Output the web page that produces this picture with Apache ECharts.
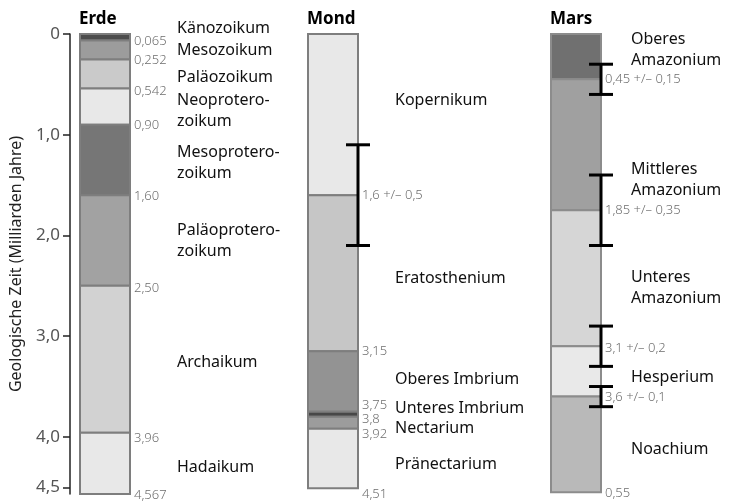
<!DOCTYPE html>
<html>
<head>
<meta charset="utf-8">
<script src="https://cdn.jsdelivr.net/npm/echarts@6/dist/echarts.min.js"></script>
<style>
html, body { margin: 0; padding: 0; background: #fff; }
#chart { width: 731px; height: 504px; }
</style>
</head>
<body>
<div id="chart"></div>
<script>
// --- data (Milliarden Jahre) ---
const planetTitles = ['Erde', 'Mond', 'Mars'];

const erdeNames = ['Känozoikum', 'Mesozoikum', 'Paläozoikum', 'Neoprotero-\nzoikum', 'Mesoprotero-\nzoikum',
  'Paläoprotero-\nzoikum', 'Archaikum', 'Hadaikum'];
const erdeEnds = [0.065, 0.252, 0.542, 0.90, 1.60, 2.50, 3.96, 4.567];
const erdeEndLabels = ['0,065', '0,252', '0,542', '0,90', '1,60', '2,50', '3,96', '4,567'];

const mondNames = ['Kopernikum', 'Eratosthenium', 'Oberes Imbrium', 'Unteres Imbrium', 'Nectarium', 'Pränectarium'];
const mondEnds = [1.6, 3.15, 3.75, 3.8, 3.92, 4.51];
const mondEndLabels = ['1,6 +/– 0,5', '3,15', '3,75', '3,8', '3,92', '4,51'];
const mondErrors = [[1.6, 0.5]];

const marsNames = ['Oberes\nAmazonium', 'Mittleres\nAmazonium', 'Unteres\nAmazonium', 'Hesperium', 'Noachium'];
const marsEnds = [0.45, 1.75, 3.1, 3.6, 4.55];
const marsEndLabels = ['0,45 +/– 0,15', '1,85 +/– 0,35', '3,1 +/– 0,2', '3,6 +/– 0,1', '0,55'];
const marsErrors = [[0.45, 0.15], [1.75, 0.35], [3.1, 0.2], [3.6, 0.1]];

const yTicks = [0, 1, 2, 3, 4, 4.5];

// --- layout / style ---
// where the period names sit on the time axis
const erdeNameAt = [-0.06, 0.16, 0.43, 0.76, 1.28, 2.05, 3.26, 4.30];
const mondNameAt = [0.66, 2.43, 3.43, 3.72, 3.92, 4.27];
const marsNameAt = [0.16, 1.45, 2.52, 3.41, 4.12];
// small pixel nudges for the boundary labels
const erdeLabelDy = [1, 1, 3, 1, 1, 2, 5, 1];
const mondLabelDy = [0, 0, -6, 3, 5, 6];
const marsLabelDy = [0, 0, 2, 1, 1];

const erdeColors = ['#4d4d4d', '#9c9c9c', '#cacaca', '#e8e8e8', '#767676', '#a2a2a2', '#d2d2d2', '#e8e8e8'];
const mondColors = ['#e8e8e8', '#c6c6c6', '#939393', '#474747', '#9c9c9c', '#e8e8e8'];
const marsColors = ['#707070', '#a0a0a0', '#d6d6d6', '#e9e9e9', '#b9b9b9'];

const FONT = '"Noto Sans", "DejaVu Sans", sans-serif';
const BAR_W = 50;

const planets = [
  { names: erdeNames, ends: erdeEnds, labels: erdeEndLabels, nameAt: erdeNameAt, dy: erdeLabelDy,
    colors: erdeColors, left: 10, nameGap: 47, border: '#7e7e7e', errors: [] },
  { names: mondNames, ends: mondEnds, labels: mondEndLabels, nameAt: mondNameAt, dy: mondLabelDy,
    colors: mondColors, left: 238, nameGap: 37, border: '#7e7e7e', errors: mondErrors },
  { names: marsNames, ends: marsEnds, labels: marsEndLabels, nameAt: marsNameAt, dy: marsLabelDy,
    colors: marsColors, left: 481, nameGap: 30, border: '#8c8c8c', errors: marsErrors }
];

function segmentSeries(p, k) {
  const data = p.ends.map((e, i) => [i ? p.ends[i - 1] : 0, e]);
  return {
    type: 'custom',
    clip: false,
    silent: true,
    data: data,
    encode: { y: [0, 1] },
    renderItem: function (params, api) {
      const i = params.dataIndex;
      const a = api.coord([p.left, api.value(0)]);
      const b = api.coord([p.left + BAR_W, api.value(1)]);
      const nameY = api.coord([0, p.nameAt[i]])[1];
      const kids = [{
        type: 'rect',
        shape: { x: a[0], y: a[1], width: b[0] - a[0], height: b[1] - a[1] },
        style: { fill: p.colors[i], stroke: p.border, lineWidth: 2 }
      }, {
        type: 'text',
        x: b[0] + 4, y: b[1] + p.dy[i],
        style: { text: p.labels[i], fill: '#6e6e6e', font: '300 13px ' + FONT, verticalAlign: 'middle' }
      }, {
        type: 'text',
        x: b[0] + p.nameGap, y: nameY,
        style: { text: p.names[i], fill: '#111', font: '16px ' + FONT, verticalAlign: 'middle', lineHeight: 21 }
      }];
      if (i === 0) {
        kids.push({
          type: 'text', x: a[0] - 1, y: a[1] - 6,
          style: { text: planetTitles[k], fill: '#000', font: 'bold 17px ' + FONT, verticalAlign: 'bottom' }
        });
      }
      return { type: 'group', children: kids };
    }
  };
}

function errorSeries(p) {
  return {
    type: 'custom',
    clip: false,
    silent: true,
    data: p.errors,
    encode: { y: 0 },
    z: 5,
    renderItem: function (params, api) {
      const c = api.value(0), e = api.value(1);
      const t = api.coord([p.left + BAR_W, c - e]);
      const b = api.coord([p.left + BAR_W, c + e]);
      const st = { stroke: '#000', lineWidth: 3 };
      return {
        type: 'group',
        children: [
          { type: 'line', shape: { x1: t[0], y1: t[1], x2: b[0], y2: b[1] }, style: st },
          { type: 'line', shape: { x1: t[0] - 12, y1: t[1], x2: t[0] + 12, y2: t[1] }, style: st },
          { type: 'line', shape: { x1: b[0] - 12, y1: b[1], x2: b[0] + 12, y2: b[1] }, style: st }
        ]
      };
    }
  };
}

const series = [];
planets.forEach((p, k) => series.push(segmentSeries(p, k)));
planets.forEach(p => { if (p.errors.length) series.push(errorSeries(p)); });

const chart = echarts.init(document.getElementById('chart'));
chart.setOption({
  animation: false,
  grid: { left: 70, right: 0, top: 34, bottom: 10 },
  xAxis: { type: 'value', min: 0, max: 661, show: false },
  yAxis: {
    type: 'value',
    inverse: true,
    min: 0,
    max: 4.567,
    name: 'Geologische Zeit (Milliarden Jahre)',
    nameLocation: 'middle',
    nameGap: 46,
    nameTextStyle: { fontFamily: FONT, fontSize: 16, color: '#222' },
    axisLine: { show: true, lineStyle: { color: '#222', width: 1.5 } },
    axisTick: { show: true, length: 7, customValues: yTicks, lineStyle: { color: '#222', width: 1.5 } },
    axisLabel: {
      customValues: yTicks,
      margin: 10,
      fontFamily: FONT,
      fontSize: 17,
      color: '#555',
      formatter: v => v === 0 ? '0' : v.toFixed(1).replace('.', ',')
    },
    splitLine: { show: false }
  },
  series: series
});
</script>
</body>
</html>
